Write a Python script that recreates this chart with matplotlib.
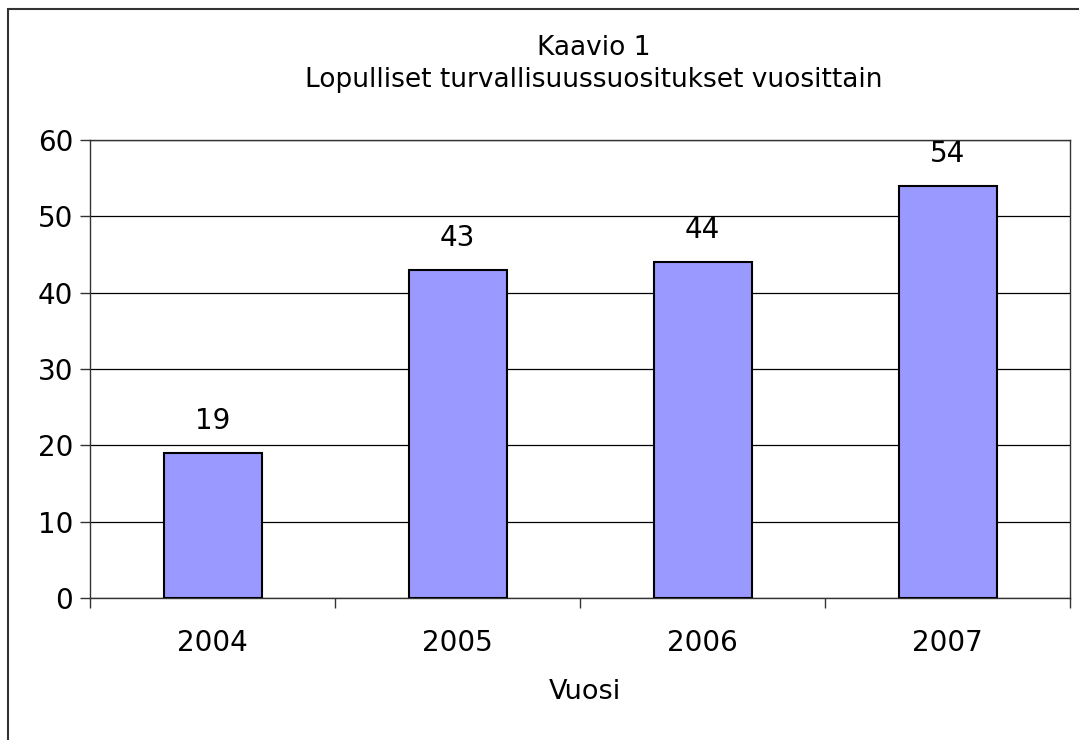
import matplotlib
matplotlib.use("Agg")
from matplotlib import pyplot as plt
from matplotlib.patches import Rectangle

# data
years = ["2004", "2005", "2006", "2007"]
counts = [19, 43, 44, 54]
y_ticks = [0, 10, 20, 30, 40, 50, 60]

W, H = 1079, 740
fig = plt.figure(figsize=(W / 100, H / 100), dpi=100)

# outer chart frame (right and bottom edges are cut off in the original)
fig.patches.append(Rectangle((7.5 / W, -0.1), 1.2, 1.1 - 9.5 / H,
                             transform=fig.transFigure, fill=False,
                             edgecolor="#333333", linewidth=1.5))

ax = fig.add_axes([90 / W, 1 - 598 / H, (1070 - 90) / W, (598 - 140) / H])
x = range(len(years))
bars = ax.bar(x, counts, width=0.4, color="#9999FF", edgecolor="black",
              linewidth=1.5, zorder=3)

ax.set_xlim(-0.5, len(years) - 0.5)
ax.set_ylim(0, 60)
ax.set_yticks(y_ticks)
ax.yaxis.grid(True, color="black", linewidth=0.9, zorder=0)

# category labels between boundary ticks, like Excel
ax.set_xticks([i + 0.5 for i in range(-1, len(years))])
ax.set_xticklabels([])
ax.set_xticks(list(x), minor=True)
ax.set_xticklabels(years, minor=True, fontsize=20)
ax.tick_params(axis="x", which="minor", length=0, pad=22)
ax.tick_params(axis="x", which="major", length=7, width=1, color="#333333")
ax.tick_params(axis="y", length=7, width=1, color="#333333", labelsize=20, pad=5)

for s in ax.spines.values():
    s.set_color("#333333")
    s.set_linewidth(1)

for b, v in zip(bars, counts):
    ax.annotate(str(v), (b.get_x() + b.get_width() / 2, v),
                xytext=(0, 13), textcoords="offset points",
                ha="center", va="bottom", fontsize=20)

fig.text(594 / W, 1 - 48 / H, "Kaavio 1", ha="center", va="center", fontsize=19)
fig.text(594 / W, 1 - 80 / H, "Lopulliset turvallisuussuositukset vuosittain",
         ha="center", va="center", fontsize=19)
fig.text(585 / W, 1 - 692 / H, "Vuosi", ha="center", va="center", fontsize=19.5)

fig.savefig("out.png", dpi=100)
